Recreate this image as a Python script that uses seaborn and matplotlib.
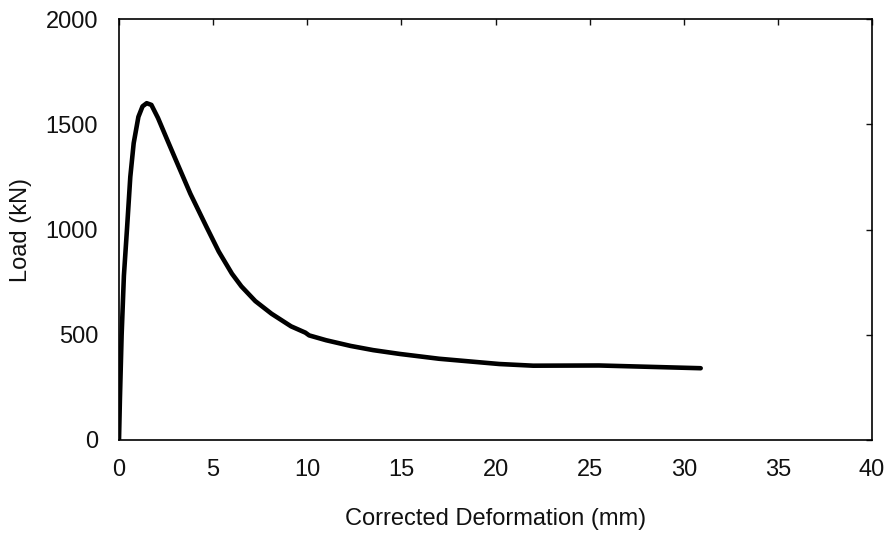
import matplotlib
matplotlib.use("Agg")
import matplotlib.pyplot as plt
import seaborn as sns
import pandas as pd

deformation = [0, 0.05, 0.14, 0.26, 0.43, 0.6, 0.78, 1.03, 1.25, 1.47, 1.72, 2.07,
               2.59, 3.02, 3.79, 4.66, 5.3, 6.0, 6.5, 7.24, 8.1, 9.14, 9.9, 10.1,
               11.0, 12.3, 13.5, 14.9, 17.0, 20.2, 22.0, 25.5, 28.0, 30.9]
load = [0, 200, 500, 780, 1010, 1250, 1410, 1535, 1585, 1600, 1592, 1530,
        1420, 1330, 1170, 1010, 895, 790, 730, 660, 600, 540, 510, 497,
        474, 447, 427, 409, 386, 361, 353, 354, 348, 341]
x_ticks = [0, 5, 10, 15, 20, 25, 30, 35, 40]
y_ticks = [0, 500, 1000, 1500, 2000]

sns.set_theme(style="white")
plt.rcParams['font.family'] = ['Liberation Sans', 'DejaVu Sans']

df = pd.DataFrame({"x": deformation, "y": load})

fig = plt.figure(figsize=(8.91, 5.37), dpi=100)
ax = fig.add_axes([119/891, 1 - 440/537, (872 - 119)/891, (440 - 19)/537])
sns.lineplot(data=df, x="x", y="y", ax=ax, color="black", linewidth=3.3,
             sort=False, estimator=None)
ax.lines[0].set_solid_joinstyle("round")
ax.lines[0].set_solid_capstyle("round")

ax.set_xlim(0, 40)
ax.set_ylim(0, 2000)
ax.set_xticks(x_ticks)
ax.set_yticks(y_ticks)
ax.set_xlabel("Corrected Deformation (mm)", fontsize=17, labelpad=19, color="#111111")
ax.set_ylabel("Load (kN)", fontsize=17, labelpad=10, color="#111111")
ax.tick_params(direction="in", length=4, width=1, top=True, right=True,
               labelsize=17, pad=14, colors="#111111")
ax.tick_params(axis="y", pad=15)
for s in ax.spines.values():
    s.set_color("black")
    s.set_linewidth(1.2)

fig.savefig("out.png", dpi=100, facecolor="white")
